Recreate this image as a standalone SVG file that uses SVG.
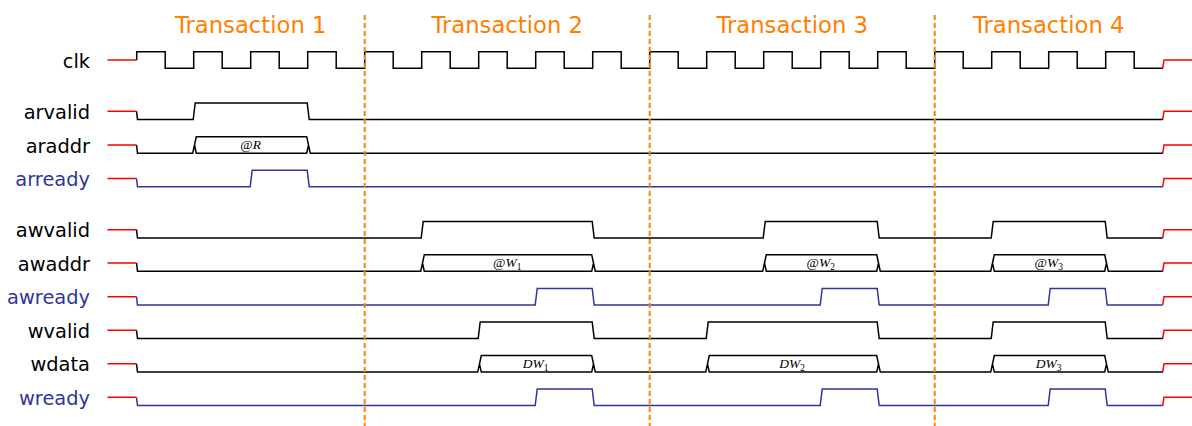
<svg xmlns="http://www.w3.org/2000/svg" width="1192" height="426" viewBox="0 0 1192 426">
<style>
.w{fill:none;stroke:#000;stroke-width:1.5;stroke-linejoin:miter}
.b{fill:none;stroke:#2f3699;stroke-width:1.5}
.r{fill:none;stroke:#ff0000;stroke-width:1.5}
.lbl{font-family:"DejaVu Sans",sans-serif;font-size:19.4px;text-anchor:end;fill:#000}
.lb{fill:#2f3699}
.tr{font-family:"DejaVu Sans",sans-serif;font-size:22.7px;text-anchor:middle;fill:#ff8000}
.bus{font-family:"Liberation Serif",serif;font-size:13.5px;text-anchor:middle;fill:#000}
.it{font-style:italic}
.sub{font-size:9.5px}
.dash{stroke:#ff8000;stroke-width:2;stroke-dasharray:5 3;fill:none}
</style>
<rect width="1192" height="426" fill="#fff"/>
<g id="transactions">
<text class="tr" x="250.7" y="33.3">Transaction 1</text>
<text class="tr" x="507.2" y="33.3">Transaction 2</text>
<text class="tr" x="792.2" y="33.3">Transaction 3</text>
<text class="tr" x="1048.7" y="33.3">Transaction 4</text>
</g>
<g id="clk">
<text class="lbl" x="90" y="67.5">clk</text>
<path class="r" d="M107.5 60H136.7M1162.7 68.3L1164 60H1192"/>
<path class="w" d="M136.7 60V51.7h28.5v16.6h28.5v-16.6h28.5v16.6h28.5v-16.6h28.5v16.6h28.5v-16.6h28.5v16.6h28.5v-16.6h28.5v16.6h28.5v-16.6h28.5v16.6h28.5v-16.6h28.5v16.6h28.5v-16.6h28.5v16.6h28.5v-16.6h28.5v16.6h28.5v-16.6h28.5v16.6h28.5v-16.6h28.5v16.6h28.5v-16.6h28.5v16.6h28.5v-16.6h28.5v16.6h28.5v-16.6h28.5v16.6h28.5v-16.6h28.5v16.6h28.5v-16.6h28.5v16.6h28.5v-16.6h28.5v16.6h28.5v-16.6h28.5v16.6h28.5"/>
</g>
<g id="arvalid">
<text class="lbl" x="90" y="118.8">arvalid</text>
<path class="r" d="M107.5 111.3H136.5M1162.7 119.6L1164 111.3H1192"/>
<path class="w" d="M136.5 111.3L137.5 119.6H193.2L195.2 103H307.2L309.2 119.6H1162.7"/>
</g>
<g id="araddr">
<text class="lbl" x="90" y="152.5">araddr</text>
<path class="r" d="M107.5 145H136.5M1162.7 153.3L1164 145H1192"/>
<path class="w" d="M136.5 145L137.5 153.3H192.7L194.5 145L196.3 136.7H306.7L308.5 145L310.3 153.3H1162.7M194.5 145L196.3 153.3H306.7L308.5 145"/>
<text class="bus" x="250.7" y="149.3">@<tspan class="it">R</tspan></text>
</g>
<g id="arready">
<text class="lbl lb" x="90" y="186">arready</text>
<path class="r" d="M107.5 178.5H136.5M1162.7 186.8L1164 178.5H1192"/>
<path class="b" d="M136.5 178.5L137.5 186.8H250.2L252.2 170.2H307.2L309.2 186.8H1162.7"/>
</g>
<g id="awvalid">
<text class="lbl" x="90" y="237.2">awvalid</text>
<path class="r" d="M107.5 229.7H136.5M1162.7 238L1164 229.7H1192"/>
<path class="w" d="M136.5 229.7L137.5 238H421.2L423.2 221.4H592.2L594.2 238H763.2L765.2 221.4H877.2L879.2 238H991.2L993.2 221.4H1105.2L1107.2 238H1162.7"/>
</g>
<g id="awaddr">
<text class="lbl" x="90" y="270.5">awaddr</text>
<path class="r" d="M107.5 263H136.5M1162.7 271.3L1164 263H1192"/>
<path class="w" d="M136.5 263L137.5 271.3H420.7L422.5 263L424.3 254.7H591.7L593.5 263L595.3 271.3H762.7L764.5 263L766.3 254.7H876.7L878.5 263L880.3 271.3H990.7L992.5 263L994.3 254.7H1104.7L1106.5 263L1108.3 271.3H1162.7M422.5 263L424.3 271.3H591.7L593.5 263M764.5 263L766.3 271.3H876.7L878.5 263M992.5 263L994.3 271.3H1104.7L1106.5 263"/>
<text class="bus" x="507.2" y="267.3">@<tspan class="it">W</tspan><tspan class="sub" dy="2.5">1</tspan></text>
<text class="bus" x="820.7" y="267.3">@<tspan class="it">W</tspan><tspan class="sub" dy="2.5">2</tspan></text>
<text class="bus" x="1048.7" y="267.3">@<tspan class="it">W</tspan><tspan class="sub" dy="2.5">3</tspan></text>
</g>
<g id="awready">
<text class="lbl lb" x="90" y="304.2">awready</text>
<path class="r" d="M107.5 296.7H136.5M1162.7 305L1164 296.7H1192"/>
<path class="b" d="M136.5 296.7L137.5 305H535.2L537.2 288.4H592.2L594.2 305H820.2L822.2 288.4H877.2L879.2 305H1048.2L1050.2 288.4H1105.2L1107.2 305H1162.7"/>
</g>
<g id="wvalid">
<text class="lbl" x="90" y="337.8">wvalid</text>
<path class="r" d="M107.5 330.3H136.5M1162.7 338.6L1164 330.3H1192"/>
<path class="w" d="M136.5 330.3L137.5 338.6H478.2L480.2 322H592.2L594.2 338.6H706.2L708.2 322H877.2L879.2 338.6H991.2L993.2 322H1105.2L1107.2 338.6H1162.7"/>
</g>
<g id="wdata">
<text class="lbl" x="90" y="371.3">wdata</text>
<path class="r" d="M107.5 363.8H136.5M1162.7 372.1L1164 363.8H1192"/>
<path class="w" d="M136.5 363.8L137.5 372.1H477.7L479.5 363.8L481.3 355.5H591.7L593.5 363.8L595.3 372.1H705.7L707.5 363.8L709.3 355.5H876.7L878.5 363.8L880.3 372.1H990.7L992.5 363.8L994.3 355.5H1104.7L1106.5 363.8L1108.3 372.1H1162.7M479.5 363.8L481.3 372.1H591.7L593.5 363.8M707.5 363.8L709.3 372.1H876.7L878.5 363.8M992.5 363.8L994.3 372.1H1104.7L1106.5 363.8"/>
<text class="bus" x="535.7" y="368"><tspan class="it">DW</tspan><tspan class="sub" dy="2.5">1</tspan></text>
<text class="bus" x="792.2" y="368"><tspan class="it">DW</tspan><tspan class="sub" dy="2.5">2</tspan></text>
<text class="bus" x="1048.7" y="368"><tspan class="it">DW</tspan><tspan class="sub" dy="2.5">3</tspan></text>
</g>
<g id="wready">
<text class="lbl lb" x="90" y="404.8">wready</text>
<path class="r" d="M107.5 397.3H136.5M1162.7 405.6L1164 397.3H1192"/>
<path class="b" d="M136.5 397.3L137.5 405.6H535.2L537.2 389H592.2L594.2 405.6H820.2L822.2 389H877.2L879.2 405.6H1048.2L1050.2 389H1105.2L1107.2 405.6H1162.7"/>
</g>
<g id="connectors">
<path class="dash" d="M364.7 15V426M649.7 15V426M934.7 15V426"/>
</g>
</svg>
